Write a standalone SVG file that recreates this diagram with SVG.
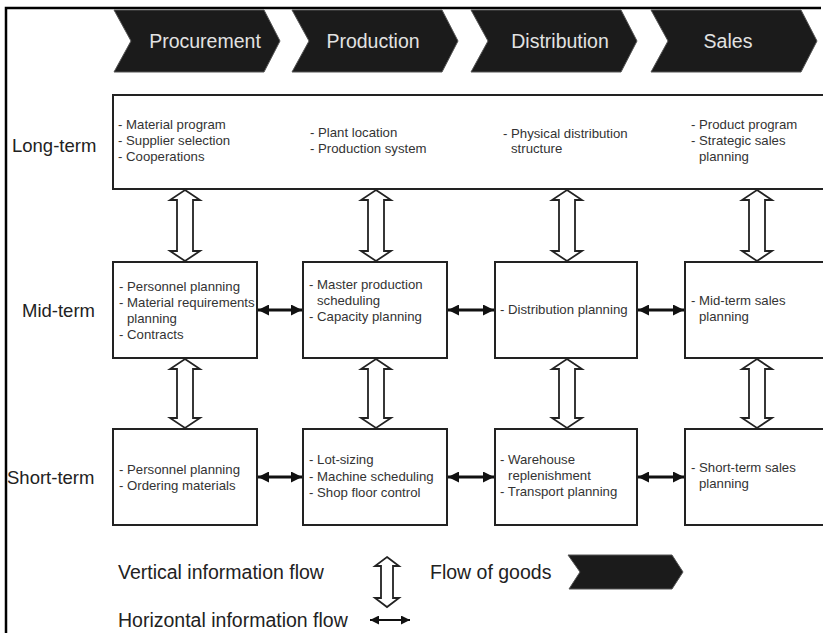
<svg xmlns="http://www.w3.org/2000/svg" width="823" height="633" viewBox="0 0 823 633">
<style>
.chev{fill:#1b1b1b;stroke:#555;stroke-width:1}
.chevt{font-family:"Liberation Sans",Arial,sans-serif;font-size:19.5px;fill:#e2e2e2;text-anchor:middle}
.box{fill:#fff;stroke:#222;stroke-width:2}
.t{font-family:"Liberation Sans",Arial,sans-serif;font-size:13.2px;fill:#333}
.lbl{font-family:"Liberation Sans",Arial,sans-serif;font-size:18.5px;fill:#222}
.leg{font-family:"Liberation Sans",Arial,sans-serif;font-size:19.5px;fill:#222}
.varr{fill:#fff;stroke:#222;stroke-width:1.8;stroke-linejoin:miter}
.harr{stroke:#111;stroke-width:3;fill:none;marker-start:url(#ah);marker-end:url(#ah)}
.harrs{stroke:#111;stroke-width:2.2;fill:none;marker-start:url(#ahs);marker-end:url(#ahs)}
</style>
<defs>
<marker id="ah" markerUnits="userSpaceOnUse" markerWidth="11" markerHeight="11" refX="11" refY="5.5" orient="auto-start-reverse"><path d="M0,0 L11,5.5 L0,11 Z" fill="#111"/></marker>
<marker id="ahs" markerUnits="userSpaceOnUse" markerWidth="9" markerHeight="9" refX="9" refY="4.5" orient="auto-start-reverse"><path d="M0,0 L9,4.5 L0,9 Z" fill="#111"/></marker>
</defs>
<rect width="823" height="633" fill="#fff"/>
<!-- frame -->
<path d="M6,633 V8 H821" fill="none" stroke="#000" stroke-width="2.5"/>

<g id="chevrons">
<g id="procurement"><path class="chev" d="M114,10 H264 L280,41 L264,72 H114 L131,41 Z"/><text class="chevt" x="205" y="48">Procurement</text></g>
<g id="production"><path class="chev" d="M292,10 H442 L458,41 L442,72 H292 L309,41 Z"/><text class="chevt" x="373" y="48">Production</text></g>
<g id="distribution"><path class="chev" d="M471,10 H621 L637,41 L621,72 H471 L488,41 Z"/><text class="chevt" x="560" y="48">Distribution</text></g>
<g id="sales"><path class="chev" d="M651,10 H801 L817,41 L801,72 H651 L668,41 Z"/><text class="chevt" x="728" y="48">Sales</text></g>
</g>

<g id="labels">
<text class="lbl" x="12" y="152">Long-term</text>
<text class="lbl" x="22" y="317">Mid-term</text>
<text class="lbl" x="7" y="484">Short-term</text>
</g>

<g id="long-term">
<rect class="box" x="113" y="95" width="720" height="94"/>
<text class="t" x="118" y="129">- Material program</text>
<text class="t" x="118" y="145">- Supplier selection</text>
<text class="t" x="118" y="161">- Cooperations</text>
<text class="t" x="310" y="137">- Plant location</text>
<text class="t" x="310" y="153">- Production system</text>
<text class="t" x="503" y="138">- Physical distribution</text>
<text class="t" x="511" y="153">structure</text>
<text class="t" x="691" y="129">- Product program</text>
<text class="t" x="691" y="145">- Strategic sales</text>
<text class="t" x="699" y="161">planning</text>
</g>

<g id="mid-procurement">
<rect class="box" x="113" y="262" width="144" height="96"/>
<text class="t" x="119" y="291">- Personnel planning</text>
<text class="t" x="119" y="307">- Material requirements</text>
<text class="t" x="127" y="323">planning</text>
<text class="t" x="119" y="339">- Contracts</text>
</g>
<g id="mid-production">
<rect class="box" x="303" y="262" width="144" height="96"/>
<text class="t" x="309" y="289">- Master production</text>
<text class="t" x="317" y="305">scheduling</text>
<text class="t" x="309" y="321">- Capacity planning</text>
</g>
<g id="mid-distribution">
<rect class="box" x="495" y="262" width="142" height="96"/>
<text class="t" x="500" y="314">- Distribution planning</text>
</g>
<g id="mid-sales">
<rect class="box" x="685" y="262" width="150" height="96"/>
<text class="t" x="691" y="305">- Mid-term sales</text>
<text class="t" x="699" y="321">planning</text>
</g>

<g id="short-procurement">
<rect class="box" x="113" y="429" width="144" height="96"/>
<text class="t" x="119" y="474">- Personnel planning</text>
<text class="t" x="119" y="490">- Ordering materials</text>
</g>
<g id="short-production">
<rect class="box" x="303" y="429" width="144" height="96"/>
<text class="t" x="309" y="464">- Lot-sizing</text>
<text class="t" x="309" y="481">- Machine scheduling</text>
<text class="t" x="309" y="497">- Shop floor control</text>
</g>
<g id="short-distribution">
<rect class="box" x="495" y="429" width="142" height="96"/>
<text class="t" x="500" y="464">- Warehouse</text>
<text class="t" x="508" y="480">replenishment</text>
<text class="t" x="500" y="496">- Transport planning</text>
</g>
<g id="short-sales">
<rect class="box" x="685" y="429" width="150" height="96"/>
<text class="t" x="691" y="472">- Short-term sales</text>
<text class="t" x="699" y="488">planning</text>
</g>

<g id="connectors">
<path class="varr" d="M185,190 L200,200 L193,200 L193,251 L200,251 L185,261 L170,251 L177,251 L177,200 L170,200 Z"/>
<path class="varr" d="M376,190 L391,200 L384,200 L384,251 L391,251 L376,261 L361,251 L368,251 L368,200 L361,200 Z"/>
<path class="varr" d="M567,190 L582,200 L575,200 L575,251 L582,251 L567,261 L552,251 L559,251 L559,200 L552,200 Z"/>
<path class="varr" d="M757,190 L772,200 L765,200 L765,251 L772,251 L757,261 L742,251 L749,251 L749,200 L742,200 Z"/>
<path class="varr" d="M185,359 L200,369 L193,369 L193,418 L200,418 L185,428 L170,418 L177,418 L177,369 L170,369 Z"/>
<path class="varr" d="M376,359 L391,369 L384,369 L384,418 L391,418 L376,428 L361,418 L368,418 L368,369 L361,369 Z"/>
<path class="varr" d="M567,359 L582,369 L575,369 L575,418 L582,418 L567,428 L552,418 L559,418 L559,369 L552,369 Z"/>
<path class="varr" d="M757,359 L772,369 L765,369 L765,418 L772,418 L757,428 L742,418 L749,418 L749,369 L742,369 Z"/>
<line class="harr" x1="258" y1="310" x2="302" y2="310"/>
<line class="harr" x1="448" y1="310" x2="494" y2="310"/>
<line class="harr" x1="638" y1="310" x2="684" y2="310"/>
<line class="harr" x1="258" y1="477" x2="302" y2="477"/>
<line class="harr" x1="448" y1="477" x2="494" y2="477"/>
<line class="harr" x1="638" y1="477" x2="684" y2="477"/>
</g>

<g id="legend">
<text class="leg" x="118" y="579">Vertical information flow</text>
<path class="varr" d="M387,557 L399,566 L393,566 L393,598 L399,598 L387,607 L375,598 L381,598 L381,566 L375,566 Z"/>
<text class="leg" x="430" y="579">Flow of goods</text>
<path class="chev" d="M568,555 H672 L683,572 L672,589 H569 L580,572 Z"/>
<text class="leg" x="118" y="627">Horizontal information flow</text>
<line class="harrs" x1="370" y1="620" x2="410" y2="620"/>
</g>
</svg>
